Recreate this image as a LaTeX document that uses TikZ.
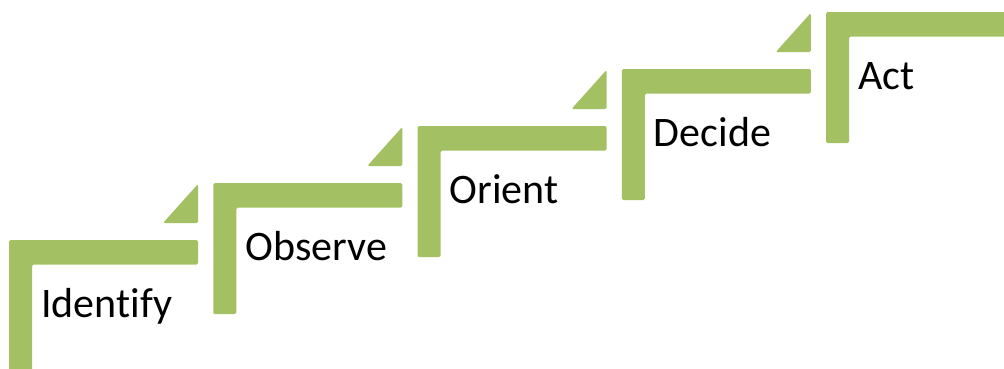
\documentclass[tikz,border=0pt]{standalone}
\usepackage{fontspec}
\setmainfont{Carlito}[Ligatures=NoCommon]
\definecolor{stepgreen}{RGB}{163,193,98}
\begin{document}
\begin{tikzpicture}[x=1pt,y=-1pt,
  stepL/.style={fill=stepgreen,draw=none,rounded corners=1.5pt},
  steptri/.style={fill=stepgreen,draw=none,rounded corners=1.5pt},
  steplabel/.style={anchor=base west,inner sep=0pt,font=\fontsize{42}{42}\selectfont,text=black}]
\useasboundingbox (0,0) rectangle (1004,368);
\clip (0,0) rectangle (1004,368);
\foreach \k/\txt in {0/Identify,1/Observe,2/Orient,3/Decide,4/Act}{
  \pgfmathsetmacro{\L}{9+204.25*\k}
  \pgfmathsetmacro{\T}{240-57*\k}
  \fill[stepL] (\L,\T) -- (\L+189,\T) -- (\L+189,\T+24.5) -- (\L+23,\T+24.5) -- (\L+23,\T+131) -- (\L,\T+131) -- cycle;
  \node[steplabel] (lbl\k) at (\L+32,\T+77) {\txt};
}
\foreach \k in {0,1,2,3}{
  \pgfmathsetmacro{\L}{9+204.25*\k}
  \pgfmathsetmacro{\T}{240-57*\k}
  \fill[steptri] (\L+154,\T-17) -- (\L+189,\T-17) -- (\L+189,\T-56) -- cycle;
}
\end{tikzpicture}
\end{document}
